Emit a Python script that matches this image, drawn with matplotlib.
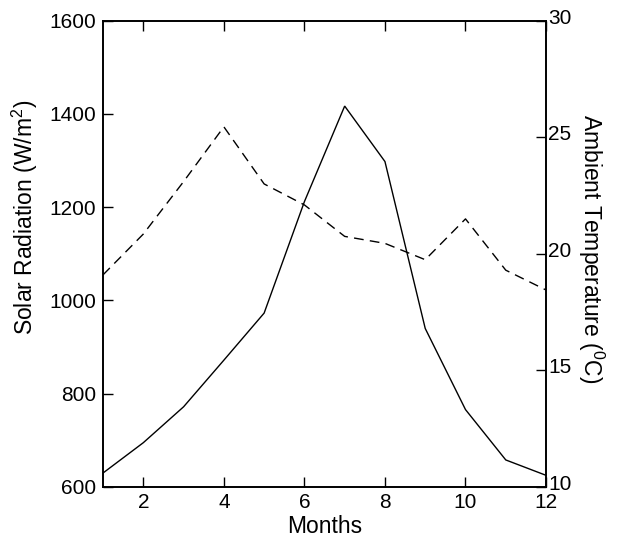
import matplotlib
matplotlib.use("Agg")
import matplotlib.pyplot as plt
from matplotlib.transforms import ScaledTranslation

months = [1, 2, 3, 4, 5, 6, 7, 8, 9, 10, 11, 12]
solar_radiation = [630, 695, 772, 872, 973, 1212, 1417, 1298, 940, 766, 658, 625]
ambient_temp = [19.1, 20.85, 23.1, 25.45, 23.0, 22.1, 20.75, 20.45, 19.75, 21.5, 19.3, 18.45]

x_ticks = [2, 4, 6, 8, 10, 12]
left_ticks = [600, 800, 1000, 1200, 1400, 1600]
right_ticks = [10, 15, 20, 25, 30]

plt.rcParams['font.family'] = ['Liberation Sans', 'DejaVu Sans']
plt.rcParams['mathtext.fontset'] = 'custom'
plt.rcParams['mathtext.rm'] = 'Liberation Sans'
plt.rcParams['mathtext.default'] = 'regular'

fig = plt.figure(figsize=(6.17, 5.39), dpi=100)
ax = fig.add_axes([0.167, 0.0965, 0.718, 0.865])
ax2 = ax.twinx()

ax.plot(months, solar_radiation, color='black', lw=1.0, solid_joinstyle='miter')
ax2.plot(months, ambient_temp, color='black', lw=1.0, linestyle=(0, (7, 4.5)))

ax.set_xlim(1, 12)
ax.set_ylim(600, 1600)
ax2.set_ylim(10, 30)

ax.set_xticks(x_ticks)
ax.set_yticks(left_ticks)
ax2.set_yticks(right_ticks)

fs = 15
lfs = 16.5
ax.tick_params(axis='x', direction='in', length=7, width=1, top=True, labelsize=fs, pad=4)
ax.tick_params(axis='y', direction='in', length=7, width=1, right=False, labelsize=fs, pad=5)
ax2.tick_params(axis='y', direction='in', length=7, width=1, labelsize=fs, pad=1.5)

# right tick labels sit slightly above their ticks
shift = ScaledTranslation(0, 4.5 / 100, fig.dpi_scale_trans)
for lab in ax2.get_yticklabels():
    lab.set_transform(lab.get_transform() + shift)

for a in (ax, ax2):
    for s in a.spines.values():
        s.set_linewidth(1.2)

ax.set_xlabel('Months', fontsize=lfs, labelpad=2.5)
ax.set_ylabel('Solar Radiation (W/m$^2$)', fontsize=lfs, va='center', rotation_mode='anchor')
ax.yaxis.set_label_coords(-0.177, 0.579)
ax2.set_ylabel('Ambient Temperature ($^0$C)', fontsize=lfs, rotation=270,
               va='center', rotation_mode='anchor')
ax2.yaxis.set_label_coords(1.102, 0.51)

fig.savefig('out.png', dpi=100)
